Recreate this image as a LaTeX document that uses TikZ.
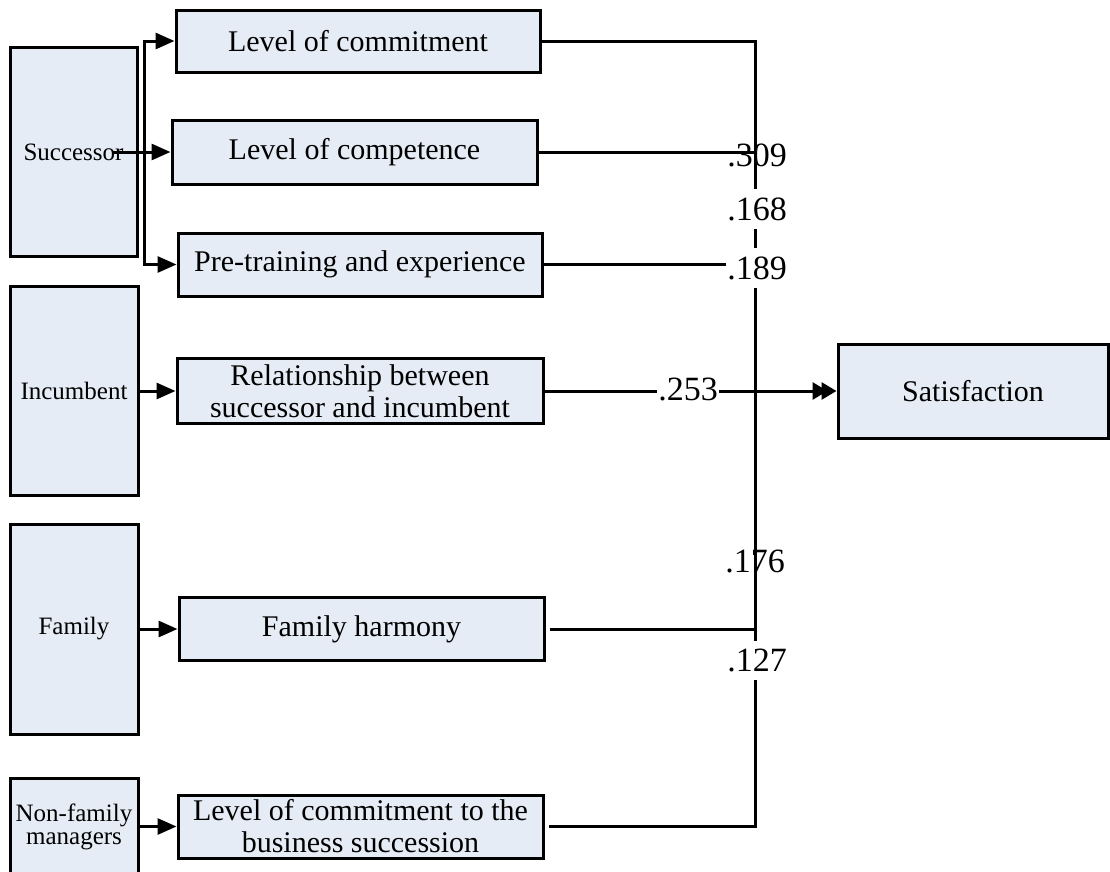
\documentclass[tikz,border=0pt]{standalone}
\usepackage{fontspec}
\setmainfont{Liberation Serif}
\usetikzlibrary{arrows.meta}
\definecolor{boxfill}{RGB}{230,236,246}
\tikzset{
  fac/.style={draw, line width=3pt, fill=boxfill, inner sep=0pt, align=center},
  big/.style={fac, font=\fontsize{30}{32}\selectfont},
  small/.style={fac, font=\fontsize{25}{23}\selectfont},
  coef/.style={font=\fontsize{34}{36}\selectfont, inner xsep=1pt, inner ysep=8pt},
  coefw/.style={coef, fill=white},
  link/.style={line width=3pt},
  arr/.style={link, -{Triangle[length=19pt,width=16pt]}},
  arrtwo/.style={link, -{Triangle[length=15pt,width=17pt,sep=-6pt]Triangle[length=15pt,width=17pt]}},
}
\begin{document}
\begin{tikzpicture}[x=1pt, y=-1pt]
\useasboundingbox (0,0) rectangle (1110,871);
\clip (0,0) rectangle (1110,871);

% groups of actors
\node[small, minimum width=127pt, minimum height=209pt] (succ) at (73.5,152) {Successor};
\node[small, minimum width=128pt, minimum height=209pt] (inc) at (74,391) {Incumbent};
\node[small, minimum width=128pt, minimum height=210pt] (fam) at (74,629) {Family};
\node[small, minimum width=128pt, minimum height=97pt] (nonfam) at (74,826.5) {Non-family\\managers};

% factors
\node[big, minimum width=364pt, minimum height=62pt] (comm) at (358,41) {Level of commitment};
\node[big, minimum width=365pt, minimum height=64pt] (comp) at (354.5,152) {Level of competence};
\node[big, minimum width=364pt, minimum height=63pt] (pre) at (360,264.5) {Pre-training and experience};
\node[big, minimum width=366pt, minimum height=65pt] (rel) at (360,391) {Relationship between\\successor and incumbent};
\node[big, minimum width=365pt, minimum height=63pt] (harm) at (361.5,629) {Family harmony};
\node[big, minimum width=365pt, minimum height=63pt] (bsn) at (360.5,826.5) {Level of commitment to the\\business succession};

% outcome
\node[big, minimum width=270pt, minimum height=94pt] (sat) at (973,391) {Satisfaction};

% arrows from the actor groups
\coordinate (sb) at (144,0);
\draw[arr] (sb |- succ.center) |- (comm.west);
\draw[arr] (sb |- succ.center) |- (pre.west);
\draw[arr] ([xshift=38.5pt]succ.center) -- (comp.west);
\draw[arr] (inc.east) -- (rel.west);
\draw[arr] (fam.east) -- (harm.west);
\draw[arr] (nonfam.east) -- (bsn.west);

% paths into satisfaction
\coordinate (rb) at (755,0);
\draw[link] (comm.east) -| (rb |- bsn.east) -- ([xshift=4pt]bsn.east);
\draw[link] (comp.east) -- (rb |- comp.east);
\draw[link] (pre.east) -- (rb |- pre.east);
\draw[link] ([xshift=4pt]harm.east) -- (rb |- harm.east);
\draw[arrtwo] (rel.east) -- (sat.west);

% path coefficients
\node[coef] (c309) at (757,155) {.309};
\node[coefw] (c168) at (757,209) {.168};
\node[coefw] (c189) at (757,268) {.189};
\node[coefw] (c253) at (688,389) {.253};
\node[coef] (c176) at (755,561) {.176};
\node[coefw] (c127) at (757,660) {.127};
\end{tikzpicture}
\end{document}
